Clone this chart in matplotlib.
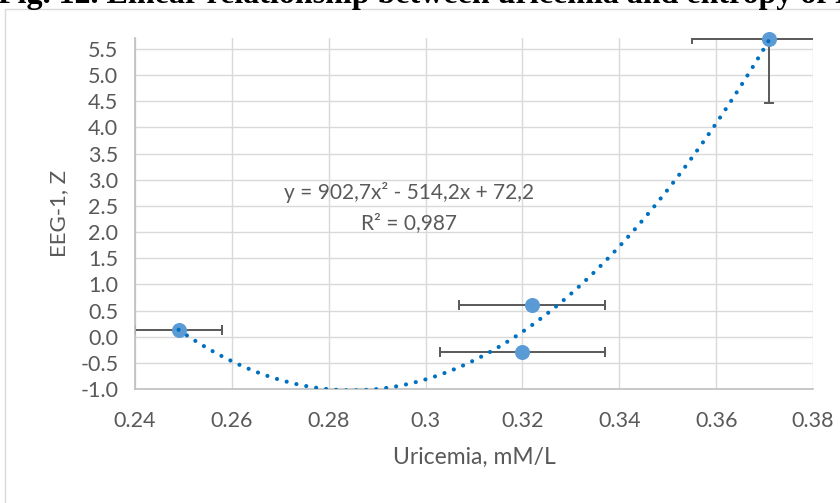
import matplotlib
matplotlib.use("Agg")
import matplotlib.pyplot as plt
from matplotlib.patches import Rectangle
import numpy as np

# data
uricemia = [0.249, 0.322, 0.320, 0.371]
eeg_z = [0.13, 0.61, -0.29, 5.69]
x_err = [0.009, 0.015, 0.017, 0.016]
y_err_low = [0.0, 0.0, 0.0, 1.22]
y_err_high = [0.0, 0.0, 0.0, 0.0]

# quadratic trendline shown on the chart
trend_coef = [902.7, -514.2, 72.2]
trend_text = "y = 902,7x² - 514,2x + 72,2"
r2_text = "R² = 0,987"

x_ticks = [0.24, 0.26, 0.28, 0.30, 0.32, 0.34, 0.36, 0.38]
x_labels = ["0.24", "0.26", "0.28", "0.3", "0.32", "0.34", "0.36", "0.38"]
y_ticks = [-1.0, -0.5, 0.0, 0.5, 1.0, 1.5, 2.0, 2.5, 3.0, 3.5, 4.0, 4.5, 5.0, 5.5]

title = "Fig. 12. Linear relationship between uricemia and entropy of EEG-1"

plt.rcParams['font.family'] = ['Lato', 'DejaVu Sans']
W, H = 840, 503
fig = plt.figure(figsize=(W / 100, H / 100), dpi=100)

# chart area border (runs off the page on right and bottom)
fig.patches.append(Rectangle((5 / W, -0.1), 1.2, 1 - 9 / H + 0.1,
                             transform=fig.transFigure, fill=False,
                             edgecolor="#D9D9D9", linewidth=1.0))

# caption above the chart, cut by the top edge like in the scan
fig.text(-0.002, 1 - 3 / H, title, family="Liberation Serif", weight="bold",
         fontsize=23, ha="left", va="baseline", color="black")

ax = fig.add_axes([135 / W, 1 - 389 / H, (813 - 135) / W, (389 - 38) / H])

ax.errorbar(uricemia, eeg_z, xerr=x_err, yerr=[y_err_low, y_err_high],
            fmt="none", ecolor="#595959", elinewidth=1.4, capsize=3.6,
            capthick=1.4, zorder=2)
ax.plot(uricemia, eeg_z, "o", color="#5B9BD5", markersize=9.8, zorder=3,
        clip_on=False)

xs = np.linspace(min(uricemia), max(uricemia), 300)
ax.plot(xs, np.polyval(trend_coef, xs), color="#0070C0", linewidth=3.0,
        linestyle=(0, (0.01, 2.4)), dash_capstyle="round", zorder=4)

ax.text(0.2966, 2.75, trend_text, fontsize=15, color="#595959",
        ha="center", va="center")
ax.text(0.2966, 2.17, r2_text, fontsize=15, color="#595959",
        ha="center", va="center")

ax.set_xlim(0.24, 0.38)
ax.set_ylim(-1.0, 5.71)
ax.set_xticks(x_ticks)
ax.set_xticklabels(x_labels)
ax.set_yticks(y_ticks)
ax.set_yticklabels([f"{v:.1f}" for v in y_ticks])
ax.tick_params(length=0, labelsize=15.5, labelcolor="#595959")
ax.tick_params(axis="y", pad=12)
ax.tick_params(axis="x", pad=16)
ax.grid(True, color="#D9D9D9", linewidth=1.0)
ax.set_axisbelow(True)
for side in ["top", "right"]:
    ax.spines[side].set_visible(False)
for side in ["left", "bottom"]:
    ax.spines[side].set_color("#BFBFBF")
    ax.spines[side].set_linewidth(1.2)

ax.set_xlabel("Uricemia, mM/L", fontsize=16.5, color="#595959", labelpad=11)
ax.set_ylabel("EEG-1, Z", fontsize=16, color="#595959", labelpad=8)

fig.savefig("out.png", dpi=100)
